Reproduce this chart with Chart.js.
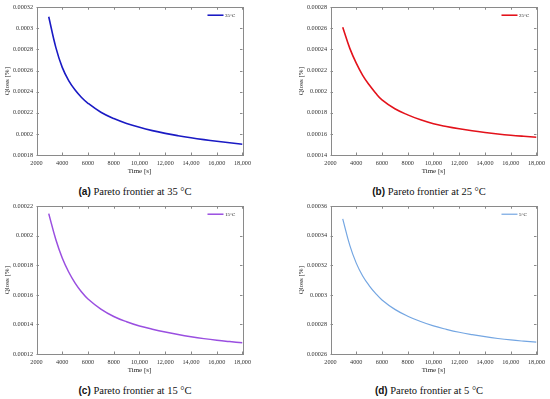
<!DOCTYPE html>
<html>
<head>
<meta charset="utf-8">
<script src="https://cdn.jsdelivr.net/npm/chart.js@4.4.1/dist/chart.umd.min.js"></script>
<style>
  html, body { margin: 0; padding: 0; background: #fff; }
  body { width: 550px; height: 399px; position: relative; overflow: hidden; }
  .panel { position: absolute; width: 256px; height: 176px; }
  .caption {
    position: absolute; width: 260px; text-align: center;
    font-family: "Liberation Serif", "DejaVu Serif", serif; font-size: 10.5px; color: #111;
    line-height: 12px;
  }
  .caption b { font-family: "Liberation Sans", Arial, sans-serif; font-weight: bold; font-size: 10px; }
</style>
</head>
<body>
<div class="panel" style="left:0;top:0"><canvas id="c35" width="256" height="176"></canvas></div>
<div class="panel" style="left:294px;top:0"><canvas id="c25" width="256" height="176"></canvas></div>
<div class="panel" style="left:0;top:199px"><canvas id="c15" width="256" height="176"></canvas></div>
<div class="panel" style="left:294px;top:199px"><canvas id="c5" width="256" height="176"></canvas></div>

<div class="caption" style="left:5px;top:186px"><b>(a)</b> Pareto frontier at 35 °C</div>
<div class="caption" style="left:299px;top:186px"><b>(b)</b> Pareto frontier at 25 °C</div>
<div class="caption" style="left:5px;top:385px"><b>(c)</b> Pareto frontier at 15 °C</div>
<div class="caption" style="left:299px;top:385px"><b>(d)</b> Pareto frontier at 5 °C</div>

<script>
// time axis (s), shared by all four fronts
const timeS = [2950, 3500, 4000, 4500, 5000, 5500, 6000, 7000, 8000, 9000,
               10000, 11000, 12000, 13000, 14000, 15000, 16000, 17000, 18000];

// Qloss [%]
const qloss35 = [0.000311, 0.000282, 0.000263, 0.0002505, 0.0002415, 0.0002345, 0.000229, 0.0002205, 0.0002145, 0.0002099,
                 0.0002062, 0.0002031, 0.0002005, 0.0001983, 0.00019635, 0.0001946, 0.000193, 0.00019155, 0.0001902];
const qloss25 = [0.000261, 0.000241, 0.000227, 0.0002155, 0.0002065, 0.0001988, 0.0001922, 0.0001838, 0.000178, 0.0001733,
                 0.0001696, 0.000167, 0.0001648, 0.0001629, 0.0001613, 0.0001599, 0.0001587, 0.0001577, 0.0001568];
const qloss15 = [0.000215, 0.0001975, 0.000185, 0.0001755, 0.000168, 0.000162, 0.0001572, 0.0001504, 0.0001454, 0.0001418,
                 0.0001389, 0.0001368, 0.0001349, 0.0001332, 0.0001317, 0.0001304, 0.0001293, 0.0001284, 0.0001276];
const qloss5  = [0.0003515, 0.0003335, 0.0003215, 0.0003128, 0.0003063, 0.000301, 0.0002966, 0.0002902, 0.0002856, 0.000282,
                 0.000279, 0.0002767, 0.0002747, 0.0002731, 0.0002717, 0.0002705, 0.0002695, 0.0002687, 0.000268];

const seriesLabels = ['35°C', '25°C', '15°C', '5°C'];
const yMins = [0.00018, 0.00014, 0.00012, 0.00026];
const yMaxs = [0.00032, 0.00028, 0.00022, 0.00036];
const xMin = 2000, xMax = 18000, xStep = 2000, yStep = 0.00002;

const SERIF = '"Liberation Serif", "DejaVu Serif", serif';

// box round the plot, small inward ticks and the little legend in the corner
const frame = {
  id: 'frame',
  afterDraw(chart) {
    const { ctx, chartArea: a, scales: { x, y } } = chart;
    ctx.save();
    ctx.strokeStyle = '#8a8a8a';
    ctx.lineWidth = 1;
    ctx.strokeRect(Math.round(a.left) + 0.5, Math.round(a.top) + 0.5,
                   Math.round(a.right - a.left), Math.round(a.bottom - a.top));
    ctx.beginPath();
    x.ticks.forEach(t => {
      const px = Math.round(x.getPixelForValue(t.value)) + 0.5;
      ctx.moveTo(px, a.bottom); ctx.lineTo(px, a.bottom - 2.5);
      ctx.moveTo(px, a.top); ctx.lineTo(px, a.top + 2.5);
    });
    y.ticks.forEach(t => {
      const py = Math.round(y.getPixelForValue(t.value)) + 0.5;
      ctx.moveTo(a.left, py); ctx.lineTo(a.left + 2.5, py);
      ctx.moveTo(a.right, py); ctx.lineTo(a.right - 2.5, py);
    });
    ctx.stroke();

    const ds = chart.data.datasets[0];
    const ly = a.top + 8;
    ctx.strokeStyle = ds.borderColor;
    ctx.lineWidth = ds.borderWidth;
    ctx.beginPath();
    ctx.moveTo(a.right - 35, ly); ctx.lineTo(a.right - 19, ly);
    ctx.stroke();
    ctx.fillStyle = '#222';
    ctx.font = '5px ' + SERIF;
    ctx.textBaseline = 'middle';
    ctx.fillText(ds.label, a.right - 17.5, ly);
    ctx.restore();
  }
};

function makeChart(id, values, idx, color, width) {
  const points = timeS.map((t, i) => ({ x: t, y: values[i] }));
  new Chart(document.getElementById(id), {
    type: 'line',
    data: {
      datasets: [{
        label: seriesLabels[idx],
        data: points,
        borderColor: color,
        borderWidth: width,
        pointRadius: 0,
        tension: 0.4,
        fill: false,
      }]
    },
    options: {
      responsive: false,
      animation: false,
      events: [],
      layout: { padding: { top: 7, right: 12.5, bottom: 0, left: 0 } },
      plugins: { legend: { display: false }, tooltip: { enabled: false } },
      scales: {
        x: {
          type: 'linear', min: xMin, max: xMax,
          afterFit: s => { s.height = 21; },
          grid: { display: false, drawTicks: false, tickLength: 0 },
          border: { display: false },
          ticks: {
            stepSize: xStep, padding: 5, color: '#333', maxRotation: 0,
            font: { family: SERIF, size: 6.2 },
            callback: v => v >= 10000 ? v.toLocaleString('en-US') : String(v),
          },
          title: { display: true, text: 'Time [s]', color: '#222',
                   font: { family: SERIF, size: 7 }, padding: { top: 0, bottom: 1 } },
        },
        y: {
          min: yMins[idx], max: yMaxs[idx],
          afterFit: s => { s.width = 36.5; },
          grid: { display: false, drawTicks: false, tickLength: 0 },
          border: { display: false },
          ticks: {
            stepSize: yStep, padding: 3.5, color: '#333',
            font: { family: SERIF, size: 6.2 },
            callback: v => String(Number(v.toFixed(5))),
          },
          title: { display: true, text: 'Qloss [%]', color: '#222',
                   font: { family: SERIF, size: 7 }, padding: { top: 3, bottom: 0 } },
        }
      }
    },
    plugins: [frame]
  });
}

makeChart('c35', qloss35, 0, '#1a1ac4', 1.6);
makeChart('c25', qloss25, 1, '#e3121b', 1.6);
makeChart('c15', qloss15, 2, '#9a4fe0', 1.5);
makeChart('c5',  qloss5,  3, '#74a6e2', 1.2);
</script>
</body>
</html>
